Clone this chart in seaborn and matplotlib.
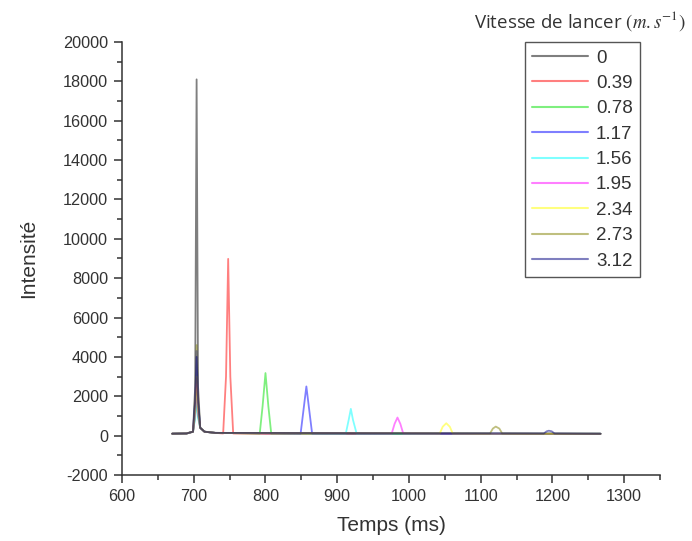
import matplotlib
matplotlib.use("Agg")
import matplotlib.pyplot as plt
from matplotlib.ticker import MultipleLocator
import pandas as pd
import seaborn as sns

# Throwing speeds (m/s) used as series labels
speeds = ["0", "0.39", "0.78", "1.17", "1.56", "1.95", "2.34", "2.73", "3.12"]
colors = ["#000000", "#FF0000", "#00E000", "#0000FF", "#00FFFF",
          "#FF00FF", "#FFFF00", "#808000", "#000080"]

# Time (ms) / intensity samples for each throwing speed
t_0 = [670, 690, 699, 702, 704, 706, 709, 715, 730, 800, 1000, 1267]
i_0 = [100, 110, 200, 2500, 18100, 2500, 400, 200, 140, 110, 100, 100]

t_039 = [670, 690, 699, 702, 704, 706, 709, 715, 730, 741, 745, 748, 751, 755, 800, 1000, 1267]
i_039 = [100, 110, 200, 1200, 2900, 1200, 400, 200, 140, 110, 3000, 8980, 3000, 110, 100, 95, 90]

t_078 = [670, 690, 699, 702, 704, 706, 709, 715, 730, 792, 796, 800, 804, 808, 900, 1267]
i_078 = [100, 110, 200, 1000, 2200, 1000, 400, 200, 140, 110, 1500, 3180, 1500, 110, 100, 95]

t_117 = [670, 690, 699, 702, 704, 706, 709, 715, 730, 849, 853, 857, 861, 865, 950, 1267]
i_117 = [100, 110, 200, 1800, 4300, 1800, 400, 200, 140, 110, 1300, 2500, 1300, 110, 100, 95]

t_156 = [670, 690, 699, 702, 704, 706, 709, 715, 730, 912, 916, 919, 922, 927, 1000, 1267]
i_156 = [100, 110, 200, 900, 2000, 900, 400, 200, 140, 110, 800, 1360, 800, 110, 100, 95]

t_195 = [670, 690, 699, 702, 704, 706, 709, 715, 730, 976, 980, 984, 988, 992, 1050, 1267]
i_195 = [100, 110, 200, 1100, 2600, 1100, 400, 200, 140, 110, 600, 920, 600, 110, 100, 95]

t_234 = [670, 690, 699, 702, 704, 706, 709, 715, 730, 1043, 1047, 1052, 1057, 1061, 1100, 1267]
i_234 = [100, 110, 200, 1300, 3000, 1300, 400, 200, 140, 110, 450, 630, 450, 110, 100, 95]

t_273 = [670, 690, 699, 702, 704, 706, 709, 715, 730, 1113, 1117, 1121, 1126, 1130, 1180, 1267]
i_273 = [100, 110, 200, 2000, 4600, 2000, 400, 200, 140, 110, 360, 460, 360, 110, 100, 95]

t_312 = [670, 690, 699, 702, 704, 706, 709, 715, 730, 1188, 1192, 1195, 1199, 1203, 1240, 1267]
i_312 = [100, 110, 200, 1700, 4000, 1700, 400, 200, 140, 110, 220, 250, 220, 110, 100, 95]

times = [t_0, t_039, t_078, t_117, t_156, t_195, t_234, t_273, t_312]
intensities = [i_0, i_039, i_078, i_117, i_156, i_195, i_234, i_273, i_312]

frames = []
for label, t, y in zip(speeds, times, intensities):
    frames.append(pd.DataFrame({"Temps": t, "Intensité": y, "Vitesse": label}))
df = pd.concat(frames, ignore_index=True)

sns.set_style("ticks")
plt.rcParams["font.family"] = ["Liberation Sans", "DejaVu Sans"]
plt.rcParams["mathtext.fontset"] = "stix"
plt.rcParams["axes.unicode_minus"] = False

fig = plt.figure(figsize=(6.92, 5.41), dpi=100)
ax = fig.add_axes([0.1763, 0.122, 0.7775, 0.8004])

sns.lineplot(data=df, x="Temps", y="Intensité", hue="Vitesse",
             hue_order=speeds, palette=colors, alpha=0.5, linewidth=1.3,
             estimator=None, sort=False, ax=ax, legend=False)

ax.set_xlim(600, 1350)
ax.set_ylim(-2000, 20000)
ax.xaxis.set_major_locator(MultipleLocator(100))
ax.xaxis.set_minor_locator(MultipleLocator(50))
ax.yaxis.set_major_locator(MultipleLocator(2000))
ax.yaxis.set_minor_locator(MultipleLocator(1000))
ax.tick_params(which="major", direction="out", length=6, width=1.1,
               color="#333333", labelsize=11.7, labelcolor="#333333", pad=4)
ax.tick_params(which="minor", direction="out", length=3.5, width=1.1, color="#333333")
sns.despine(ax=ax)
for s in ("left", "bottom"):
    ax.spines[s].set_linewidth(1.1)
    ax.spines[s].set_color("#333333")

ax.set_xlabel("Temps (ms)", fontsize=15, color="#333333", labelpad=9)
ax.set_ylabel("Intensité", fontsize=15, color="#333333", labelpad=18)

handles = [plt.Line2D([], [], color=c, alpha=0.5, linewidth=1.5) for c in colors]
leg = ax.legend(handles, speeds, loc="upper right", bbox_to_anchor=(0.963, 1.0),
                borderaxespad=0, fontsize=13.5, frameon=True, fancybox=False,
                framealpha=1, edgecolor="#555555", handlelength=3.0,
                handletextpad=0.4, labelspacing=0.44, borderpad=0.4)
leg.get_frame().set_linewidth(1.0)
for txt in leg.get_texts():
    txt.set_color("#333333")

fig.text(0.99, 0.962, "Vitesse de lancer $(m.s^{-1})$", ha="right", va="center",
         fontsize=13.5, color="#333333", family=["Open Sans", "DejaVu Sans"])

fig.savefig("out.png", dpi=100, facecolor="white")
